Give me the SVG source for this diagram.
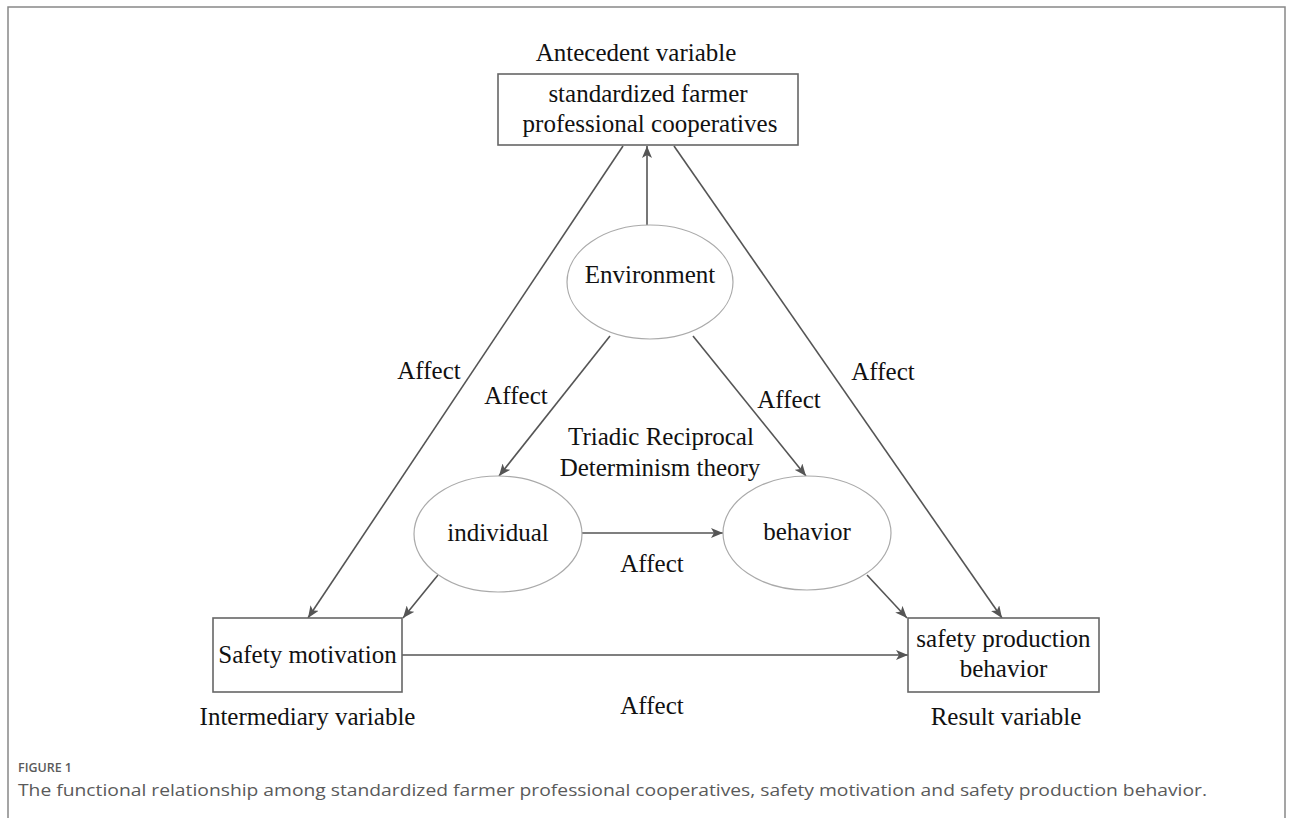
<svg xmlns="http://www.w3.org/2000/svg" width="1293" height="818" viewBox="0 0 1293 818">
<style>
.t{font-family:"Liberation Serif","Times New Roman",serif;font-size:25px;fill:#111;text-anchor:middle}
.box{fill:#fff;stroke:#666;stroke-width:1.6}
.ell{fill:#fff;stroke:#aaa;stroke-width:1.2}
.c{stroke:#555;stroke-width:1.6;fill:none;marker-end:url(#ah)}
.cap{font-family:"Open Sans","Noto Sans",sans-serif;fill:#5a5a5a}
</style>
<defs>
<marker id="ah" viewBox="0 0 12 10" refX="12" refY="5" markerWidth="12" markerHeight="10" markerUnits="userSpaceOnUse" orient="auto">
<path d="M0,0 L12,5 L0,10 L3,5 Z" fill="#555"/>
</marker>
</defs>
<rect width="1293" height="818" fill="#fff"/>
<path d="M8,830 V7 H1285 V830" fill="none" stroke="#888" stroke-width="1.5"/>

<g id="connectors">
<line class="c" x1="623" y1="146" x2="308" y2="618"/>
<line class="c" x1="674" y1="146" x2="1002" y2="618"/>
<line class="c" x1="647" y1="225" x2="647" y2="146"/>
<line class="c" x1="610" y1="336" x2="499" y2="476"/>
<line class="c" x1="693" y1="336" x2="806" y2="476"/>
<line class="c" x1="582" y1="533" x2="723" y2="533"/>
<line class="c" x1="438" y1="575" x2="403" y2="618"/>
<line class="c" x1="867" y1="575" x2="907" y2="618"/>
<line class="c" x1="402" y1="655" x2="908" y2="655"/>
<text class="t" x="429" y="379">Affect</text>
<text class="t" x="516" y="404">Affect</text>
<text class="t" x="789" y="408">Affect</text>
<text class="t" x="883" y="380">Affect</text>
<text class="t" x="652" y="572">Affect</text>
<text class="t" x="652" y="714">Affect</text>
</g>

<g id="antecedent">
<rect class="box" x="498" y="74" width="300" height="71"/>
<text class="t" x="648" y="102">standardized farmer</text>
<text class="t" x="650" y="132">professional cooperatives</text>
<text class="t" x="636" y="61">Antecedent variable</text>
</g>

<g id="environment">
<ellipse class="ell" cx="650" cy="282" rx="83" ry="57"/>
<text class="t" x="650" y="283">Environment</text>
</g>

<g id="theory">
<text class="t" x="661" y="445">Triadic Reciprocal</text>
<text class="t" x="660" y="476">Determinism theory</text>
</g>

<g id="individual">
<ellipse class="ell" cx="498" cy="534" rx="84" ry="58"/>
<text class="t" x="498" y="541">individual</text>
</g>

<g id="behavior">
<ellipse class="ell" cx="807" cy="533" rx="84" ry="57"/>
<text class="t" x="807" y="540">behavior</text>
</g>

<g id="safety-motivation">
<rect class="box" x="213" y="618" width="189" height="74"/>
<text class="t" x="307.5" y="663">Safety motivation</text>
<text class="t" x="307.5" y="725">Intermediary variable</text>
</g>

<g id="safety-production">
<rect class="box" x="908" y="618" width="191" height="74"/>
<text class="t" x="1003.5" y="647">safety production</text>
<text class="t" x="1003.5" y="677">behavior</text>
<text class="t" x="1006" y="725">Result variable</text>
</g>

<g id="caption">
<text class="cap" x="18" y="772" font-size="12.5" font-weight="600" textLength="54" lengthAdjust="spacingAndGlyphs">FIGURE 1</text>
<text class="cap" x="18" y="796" font-size="16.5" textLength="1189" lengthAdjust="spacingAndGlyphs">The functional relationship among standardized farmer professional cooperatives, safety motivation and safety production behavior.</text>
</g>
</svg>
